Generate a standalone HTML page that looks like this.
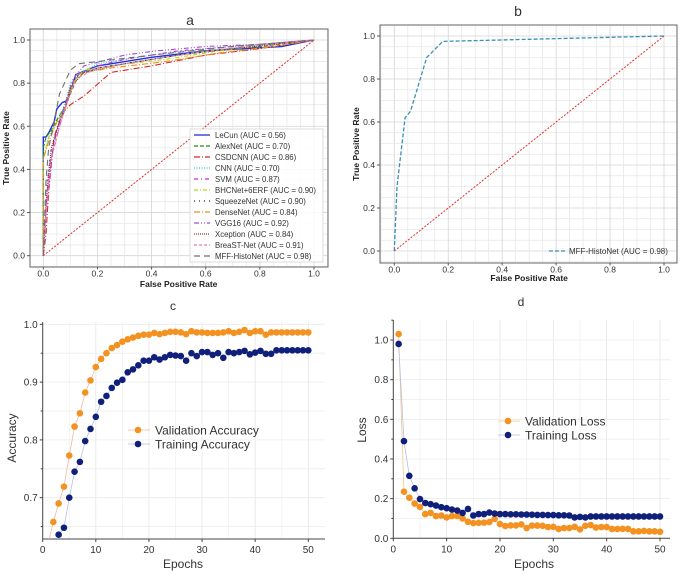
<!DOCTYPE html>
<html><head><meta charset="utf-8"><style>
html,body{margin:0;padding:0;background:#fff;}
svg{display:block;font-family:"Liberation Sans",sans-serif;}
</style></head><body>
<svg id="s" width="685" height="575" viewBox="0 0 685 575" xmlns="http://www.w3.org/2000/svg"></svg>
<script>
// ---------- data ----------
const rocTicks = [0, 0.2, 0.4, 0.6, 0.8, 1.0];
const rocNames = ["LeCun (AUC = 0.56)","AlexNet (AUC = 0.70)","CSDCNN (AUC = 0.86)","CNN (AUC = 0.70)","SVM (AUC = 0.87)","BHCNet+6ERF (AUC = 0.90)","SqueezeNet (AUC = 0.90)","DenseNet (AUC = 0.84)","VGG16 (AUC = 0.92)","Xception (AUC = 0.84)","BreaST-Net (AUC = 0.91)","MFF-HistoNet (AUC = 0.98)"];
const rocFpr = [
 [0,0,0.01,0.02,0.04,0.05,0.07,0.09,0.12,0.2,0.4,0.6,0.88,1],
 [0,0,0.01,0.03,0.05,0.08,0.1,0.13,0.2,0.4,0.6,0.8,1],
 [0,0.01,0.02,0.04,0.07,0.1,0.15,0.25,0.4,0.6,0.8,1],
 [0,0,0.02,0.05,0.08,0.1,0.14,0.2,0.4,0.6,0.8,1],
 [0,0.01,0.03,0.06,0.09,0.12,0.2,0.3,0.5,0.7,1],
 [0,0,0.02,0.05,0.08,0.11,0.15,0.25,0.45,0.65,0.85,1],
 [0,0.01,0.03,0.06,0.09,0.12,0.2,0.3,0.5,0.7,1],
 [0,0,0.02,0.05,0.08,0.1,0.15,0.25,0.45,0.65,0.85,1],
 [0,0.01,0.02,0.05,0.08,0.11,0.15,0.3,0.42,0.6,0.8,1],
 [0,0.01,0.03,0.06,0.08,0.1,0.15,0.3,0.5,0.7,1],
 [0,0.01,0.03,0.06,0.09,0.12,0.2,0.35,0.55,0.75,1],
 [0,0.01,0.02,0.04,0.06,0.1,0.13,0.2,0.4,0.7,1]
];
const rocTpr = [
 [0,0.55,0.55,0.57,0.62,0.68,0.71,0.72,0.84,0.88,0.92,0.95,0.97,1],
 [0,0.5,0.55,0.58,0.63,0.69,0.75,0.84,0.87,0.91,0.95,0.97,1],
 [0,0.1,0.3,0.55,0.66,0.7,0.74,0.85,0.88,0.93,0.96,1],
 [0,0.45,0.55,0.62,0.7,0.8,0.85,0.89,0.93,0.96,0.98,1],
 [0,0.2,0.45,0.6,0.72,0.84,0.88,0.91,0.95,0.97,1],
 [0,0.45,0.55,0.62,0.68,0.8,0.86,0.88,0.91,0.95,0.98,1],
 [0,0.3,0.5,0.63,0.74,0.83,0.87,0.89,0.93,0.96,1],
 [0,0.45,0.53,0.62,0.67,0.78,0.85,0.87,0.9,0.94,0.97,1],
 [0,0.2,0.4,0.58,0.7,0.82,0.88,0.93,0.95,0.97,0.98,1],
 [0,0.25,0.5,0.62,0.68,0.78,0.85,0.89,0.93,0.96,1],
 [0,0.2,0.45,0.6,0.72,0.82,0.87,0.9,0.94,0.97,1],
 [0,0.35,0.5,0.62,0.75,0.86,0.89,0.9,0.93,0.97,1]
];
const rocColors = ["#1f2fe0","#1e8a1e","#d62728","#2ac7c7","#d42ad4","#b8d41a","#1a2a5a","#f0901a","#a050d0","#8c3a3a","#e080c0","#707070"];
const rocDash = ["", "4,2", "6,2,1,2", "1,1.5", "4,3,1,3", "4,2,1,2", "1,4", "6,2,1,2", "5,2,1,2,1,2", "1,1", "3,2", "6,4"];
const mffFpr = [0, 0.01, 0.04, 0.06, 0.12, 0.18, 1];
const mffTpr = [0, 0.3, 0.62, 0.65, 0.9, 0.975, 1];

const epochs = Array.from({length:50},(_,i)=>i+1);
const valAcc = [0.62,0.658,0.69,0.719,0.773,0.823,0.846,0.882,0.903,0.926,0.94,0.95,0.959,0.964,0.97,0.974,0.977,0.98,0.982,0.982,0.985,0.983,0.985,0.987,0.987,0.986,0.983,0.988,0.986,0.986,0.985,0.985,0.985,0.986,0.988,0.985,0.987,0.99,0.985,0.988,0.988,0.982,0.986,0.986,0.986,0.986,0.986,0.986,0.986,0.986];
const trainAcc = [0.58,0.6,0.636,0.648,0.70,0.745,0.762,0.798,0.819,0.84,0.866,0.876,0.89,0.899,0.904,0.917,0.922,0.929,0.937,0.937,0.943,0.939,0.943,0.947,0.946,0.945,0.937,0.95,0.945,0.952,0.952,0.947,0.95,0.942,0.952,0.95,0.952,0.954,0.948,0.951,0.954,0.949,0.949,0.955,0.955,0.955,0.955,0.955,0.955,0.955];
const valLoss = [1.03,0.235,0.205,0.175,0.158,0.122,0.128,0.112,0.115,0.105,0.112,0.112,0.1,0.083,0.077,0.078,0.079,0.082,0.098,0.072,0.062,0.065,0.065,0.07,0.052,0.064,0.064,0.063,0.057,0.058,0.047,0.052,0.052,0.058,0.045,0.063,0.067,0.054,0.057,0.057,0.047,0.047,0.048,0.047,0.035,0.035,0.037,0.035,0.035,0.033];
const trainLoss = [0.98,0.49,0.315,0.252,0.198,0.178,0.172,0.165,0.157,0.152,0.145,0.14,0.128,0.148,0.115,0.122,0.122,0.13,0.125,0.122,0.122,0.121,0.121,0.12,0.12,0.119,0.118,0.118,0.117,0.117,0.116,0.116,0.115,0.105,0.108,0.105,0.11,0.11,0.11,0.11,0.11,0.11,0.11,0.11,0.11,0.11,0.11,0.11,0.11,0.11];
const accTicks = [0.7, 0.8, 0.9, 1.0];
const lossTicks = [0, 0.2, 0.4, 0.6, 0.8, 1.0];
const epochTicks = [0, 10, 20, 30, 40, 50];

// ---------- helpers ----------
const NS="http://www.w3.org/2000/svg";
const S=document.getElementById('s');
function mk(tag,attrs,parent,text){const e=document.createElementNS(NS,tag);for(const k in attrs)e.setAttribute(k,attrs[k]);if(text!==undefined)e.textContent=text;(parent||S).appendChild(e);return e;}
function lin(d0,d1,r0,r1){return v=>r0+(v-d0)/(d1-d0)*(r1-r0);}
function fmt1(v){return v.toFixed(1);}

// ---------- ROC panel builder ----------
function rocPanel(id,fx,fy,fw,fh,x0,x1,y0,y1,title,tx,ty,ylx,xly){
  const g=mk('g',{});
  
  
  const X=lin(0,1,x0,x1), Y=lin(0,1,y0,y1);
  for(let v=-0.05; v<=1.051; v+=0.05){
    const major=Math.abs(Math.round(v*5)-v*5)<1e-6;
    const xx=X(v); if(xx>fx&&xx<fx+fw) mk('line',{x1:xx,x2:xx,y1:fy,y2:fy+fh,stroke:major?'#d4d4d4':'#e8e8e8','stroke-width':0.8},g);
    const yy=Y(v); if(yy>fy&&yy<fy+fh) mk('line',{x1:fx,x2:fx+fw,y1:yy,y2:yy,stroke:major?'#d4d4d4':'#e8e8e8','stroke-width':0.8},g);
  }
  mk('rect',{x:fx,y:fy,width:fw,height:fh,fill:'none',stroke:'#666','stroke-width':1},g);
  rocTicks.forEach(t=>{
    mk('line',{x1:X(t),x2:X(t),y1:fy+fh,y2:fy+fh+2.5,stroke:'#555'},g);
    const a=mk('text',{x:X(t),y:fy+fh+9.5,'font-size':8.5,'text-anchor':'middle',fill:'#333'},g,fmt1(t));
    
    
    mk('line',{x1:fx-3,x2:fx,y1:Y(t),y2:Y(t),stroke:'#555'},g);
    const b=mk('text',{x:fx-5,y:Y(t)+3,'font-size':8.5,'text-anchor':'end',fill:'#333'},g,fmt1(t));
    
    
  });
  const t=mk('text',{x:tx,y:ty,'font-size':14,'text-anchor':'middle',fill:'#333'},g,title);
  
  
  const xl=mk('text',{x:(x0+x1)/2,y:xly,'font-size':8.5,'font-weight':'bold','text-anchor':'middle',fill:'#222'},g,'False Positive Rate');
  
  
  const cy=(fy+fy+fh)/2;
  const yl=mk('text',{x:ylx,y:cy,'font-size':8.5,'font-weight':'bold','text-anchor':'middle',fill:'#222',transform:`rotate(-90 ${ylx} ${cy})`},g,'True Positive Rate');
  
  
  const diag=mk('line',{x1:X(0),y1:Y(0),x2:X(1),y2:Y(1),stroke:'#e03030','stroke-width':1,'stroke-dasharray':'2,1.5'},g);
  
  
  return {g,X,Y};
}
function polyPts(xs,ys,X,Y){return xs.map((v,i)=>X(v).toFixed(1)+','+Y(ys[i]).toFixed(1)).join(' ');}

// Panel a
const A=rocPanel('panel-a-roc',30,29,298,238,43.3,314,255.7,40,'a',190,25,9,287);
rocFpr.forEach((xs,i)=>{
  const p=mk('polyline',{points:polyPts(xs,rocTpr[i],A.X,A.Y),fill:'none',stroke:rocColors[i],'stroke-width':i==0?1.4:1.1,'stroke-dasharray':rocDash[i]},A.g);
  
  
});
const leg=mk('g',{},A.g);


mk('rect',{x:190,y:129,width:133,height:133,fill:'#fff','fill-opacity':0.85,stroke:'#ddd'},leg);
rocNames.forEach((n,i)=>{
  const y=135+i*11;
  mk('line',{x1:194,x2:210,y1:y,y2:y,stroke:rocColors[i],'stroke-width':1.3,'stroke-dasharray':rocDash[i]},leg);
  const t=mk('text',{x:215,y:y+3,'font-size':7.8,fill:'#333'},leg,n);
  
  
});

// Panel b
const B=rocPanel('panel-b-roc',380,25,297,238,394.3,664,251,36,'b',518,16,359,281);
const mp=mk('polyline',{points:polyPts(mffFpr,mffTpr,B.X,B.Y),fill:'none',stroke:'#3a8fb5','stroke-width':1.3,'stroke-dasharray':'4,2'},B.g);


mk('line',{x1:549,x2:565,y1:251,y2:251,stroke:'#3a8fb5','stroke-width':1.3,'stroke-dasharray':'4,2'},B.g);
const lb=mk('text',{x:569,y:254,'font-size':8,fill:'#333'},B.g,'MFF-HistoNet (AUC = 0.98)');



// ---------- training panels ----------
function trainPanel(id,cfg){
  const g=mk('g',{});
  
  
  const X=lin(0,50,cfg.x0,cfg.x50), Y=lin(cfg.ya,cfg.yb,cfg.pya,cfg.pyb);
  const clipId=id+'-clip';
  const cp=mk('clipPath',{id:clipId},g); mk('rect',{x:cfg.left,y:cfg.top,width:cfg.right-cfg.left,height:cfg.bottom-cfg.top},cp);
  for(let e=5;e<=50;e+=5){ mk('line',{x1:X(e),x2:X(e),y1:cfg.top,y2:cfg.bottom,stroke:e%10==0?'#e6e6e6':'#f1f1f1','stroke-width':0.8},g); }
  cfg.gridY.forEach(v=>mk('line',{x1:cfg.left,x2:cfg.right,y1:Y(v),y2:Y(v),stroke:'#ececec','stroke-width':0.8},g));
  mk('line',{x1:cfg.left,x2:cfg.left,y1:cfg.top,y2:cfg.bottom,stroke:'#444','stroke-width':1},g);
  mk('line',{x1:cfg.left,x2:cfg.right,y1:cfg.bottom,y2:cfg.bottom,stroke:'#444','stroke-width':1},g);
  epochTicks.forEach(t=>{
    mk('line',{x1:X(t),x2:X(t),y1:cfg.bottom,y2:cfg.bottom+3,stroke:'#444'},g);
    const a=mk('text',{x:X(t),y:cfg.bottom+14,'font-size':10,'text-anchor':'middle',fill:'#333'},g,String(t));
    
    
  });
  cfg.ticks.forEach(t=>{
    mk('line',{x1:cfg.left-3,x2:cfg.left,y1:Y(t),y2:Y(t),stroke:'#444'},g);
    const b=mk('text',{x:cfg.left-5,y:Y(t)+3.5,'font-size':10,'text-anchor':'end',fill:'#333'},g,fmt1(t));
    
    
  });
  cfg.minor.forEach(t=>mk('line',{x1:cfg.left-2,x2:cfg.left,y1:Y(t),y2:Y(t),stroke:'#444'},g));
  const t=mk('text',{x:cfg.tx,y:cfg.ty,'font-size':12,'text-anchor':'middle',fill:'#333'},g,cfg.title);
  
  
  const xl=mk('text',{x:cfg.xlx,y:568,'font-size':12,'text-anchor':'middle',fill:'#333'},g,'Epochs');
  
  
  const yl=mk('text',{x:cfg.ylx,y:cfg.yly,'font-size':12,'text-anchor':'middle',fill:'#333',transform:`rotate(-90 ${cfg.ylx} ${cfg.yly})`},g,cfg.ylabel);
  
  
  const sg=mk('g',{'clip-path':`url(#${clipId})`},g);
  cfg.series.forEach(s=>{
    const pl=mk('polyline',{points:epochs.map((e,i)=>X(e).toFixed(1)+','+Y(s.vals[i]).toFixed(1)).join(' '),fill:'none',stroke:s.line,'stroke-width':0.8},sg);
    
    
    epochs.forEach((e,i)=>{
      const c=mk('circle',{cx:X(e),cy:Y(s.vals[i]),r:3.3,fill:s.color},sg);
      
      
    });
  });
  cfg.series.forEach((s,i)=>{
    const ly=cfg.ly+i*14;
    mk('line',{x1:cfg.lx-10,x2:cfg.lx+12,y1:ly,y2:ly,stroke:s.line,'stroke-width':0.8},g);
    mk('circle',{cx:cfg.lx,cy:ly,r:3.3,fill:s.color},g);
    const lt=mk('text',{x:cfg.lx+17,y:ly+4.5,'font-size':12,fill:'#333'},g,s.name);
    
    
  });
}
trainPanel('panel-c-accuracy',{x0:42.7,x50:308.3,ya:0.7,yb:1.0,pya:497.7,pyb:324.3,left:42.7,right:325,top:322,bottom:539,
  ticks:accTicks,minor:[0.65,0.75,0.85,0.95],gridY:[0.65,0.7,0.75,0.8,0.85,0.9,0.95,1.0],title:'c',tx:173,ty:310,xlx:183,ylx:16,yly:438,ylabel:'Accuracy',
  lx:138,ly:430,series:[{key:'validation-accuracy',name:'Validation Accuracy',vals:valAcc,color:'#f39220',line:'#f0b9a0'},{key:'training-accuracy',name:'Training Accuracy',vals:trainAcc,color:'#10207a',line:'#b8bde0'}]});
trainPanel('panel-d-loss',{x0:393.3,x50:660,ya:0,yb:1.0,pya:538.3,pyb:340,left:393.3,right:670,top:320,bottom:538.3,
  ticks:lossTicks,minor:[0.1,0.3,0.5,0.7,0.9,1.1],gridY:[0.1,0.2,0.3,0.4,0.5,0.6,0.7,0.8,0.9,1.0],title:'d',tx:521,ty:306,xlx:534,ylx:366,yly:430,ylabel:'Loss',
  lx:508,ly:421,series:[{key:'validation-loss',name:'Validation Loss',vals:valLoss,color:'#f39220',line:'#f0c890'},{key:'training-loss',name:'Training Loss',vals:trainLoss,color:'#10207a',line:'#b8bde0'}]});
</script>
</body></html>
